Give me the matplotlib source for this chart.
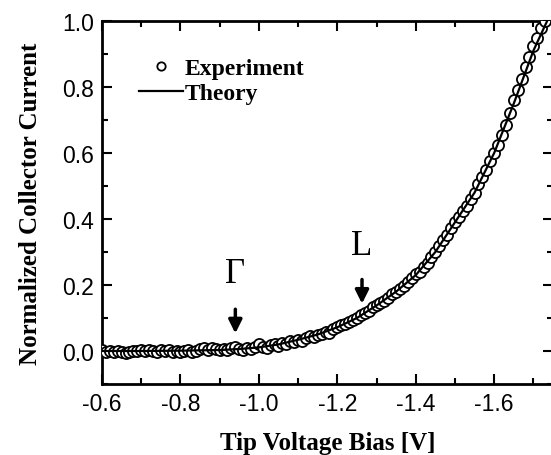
import numpy as np
import matplotlib
matplotlib.use("Agg")
import matplotlib.pyplot as plt
from matplotlib.ticker import MultipleLocator

# experiment: tip bias [V] and normalized collector current
exp_v = np.round(np.arange(-0.60, -1.735, -0.01), 2)
exp_i = [
    0.002, -0.003, 0.000, -0.004, 0.001, -0.002, -0.006, -0.003, 0.001, -0.001,
    0.003, 0.000, 0.004, 0.001, -0.002, 0.003, 0.000, 0.002, -0.003, 0.001,
    -0.002, 0.000, 0.003, -0.004, 0.001, 0.006, 0.008, 0.004, 0.009, 0.005,
    0.002, 0.007, 0.004, 0.010, 0.012, 0.006, 0.003, 0.008, 0.005, 0.011,
    0.020, 0.012, 0.008, 0.018, 0.020, 0.015, 0.025, 0.022, 0.030, 0.028,
    0.034, 0.030, 0.040, 0.044, 0.042, 0.050, 0.053, 0.058, 0.055, 0.066,
    0.072, 0.078, 0.082, 0.088, 0.095, 0.100, 0.108, 0.115, 0.122, 0.132,
    0.138, 0.145, 0.152, 0.160, 0.172, 0.180, 0.188, 0.198, 0.210, 0.220,
    0.232, 0.240, 0.255, 0.268, 0.285, 0.300, 0.318, 0.335, 0.352, 0.372,
    0.392, 0.405, 0.425, 0.440, 0.462, 0.480, 0.505, 0.528, 0.550, 0.575,
    0.600, 0.625, 0.655, 0.685, 0.720, 0.760, 0.790, 0.825, 0.860, 0.890,
    0.925, 0.950, 0.980, 1.000,
]

# theory curve
th_v = [-0.60, -0.70, -0.80, -0.90, -0.95, -1.00, -1.05, -1.10, -1.15, -1.20,
        -1.25, -1.30, -1.35, -1.40, -1.45, -1.50, -1.55, -1.60, -1.65, -1.70,
        -1.735, -1.75]
th_i = [0.000, 0.000, 0.001, 0.003, 0.006, 0.011, 0.020, 0.034, 0.050, 0.072,
        0.100, 0.138, 0.180, 0.230, 0.300, 0.390, 0.480, 0.600, 0.750, 0.910,
        1.000, 1.040]

serif = ['Liberation Serif', 'DejaVu Serif']
plt.rcParams['font.family'] = ['Liberation Sans', 'DejaVu Sans']

fig = plt.figure(figsize=(5.51, 4.56), dpi=100)
ax = fig.add_axes([102/551, 71/456, 451/551, 363/456])

ax.plot(exp_v, exp_i, 'o', mfc='white', mec='black', ms=8, mew=1.3,
        label='Experiment', zorder=3)
ax.plot(th_v, th_i, '-', color='black', lw=1.6, label='Theory', zorder=4)

ax.set_xlim(-0.6, -1.75)
ax.set_ylim(-0.1, 1.0)
ax.xaxis.set_major_locator(MultipleLocator(0.2))
ax.xaxis.set_minor_locator(MultipleLocator(0.1))
ax.yaxis.set_major_locator(MultipleLocator(0.2))
ax.yaxis.set_minor_locator(MultipleLocator(0.1))
ax.xaxis.set_major_formatter(matplotlib.ticker.FormatStrFormatter('%.1f'))
ax.yaxis.set_major_formatter(matplotlib.ticker.FormatStrFormatter('%.1f'))
ax.tick_params(which='both', direction='in', top=True, right=True, width=1.5,
               labelsize=16.5)
ax.tick_params(which='major', length=7, pad=6)
ax.tick_params(which='minor', length=4)
for s in ax.spines.values():
    s.set_linewidth(2)

ax.set_xlabel('Tip Voltage Bias [V]', family=serif, fontweight='bold',
              fontsize=18, labelpad=11)
ax.set_ylabel('Normalized Collector Current', family=serif, fontweight='bold',
              fontsize=18, labelpad=14)

leg = ax.legend(loc='upper left', bbox_to_anchor=(0.06, 0.925), frameon=False,
                prop={'family': serif, 'weight': 'bold', 'size': 17},
                handlelength=1.9, handletextpad=0.05, labelspacing=0.15,
                borderaxespad=0, markerscale=0.75)

# band-edge markers
ax.annotate('', xy=(-0.94, 0.045), xytext=(-0.94, 0.135),
            arrowprops=dict(arrowstyle='-|>,head_width=0.4,head_length=0.8',
                            color='black', lw=2.5))
ax.text(-0.94, 0.185, 'Γ', family=serif, fontsize=25, ha='center', va='bottom')
ax.annotate('', xy=(-1.263, 0.135), xytext=(-1.263, 0.225),
            arrowprops=dict(arrowstyle='-|>,head_width=0.4,head_length=0.8',
                            color='black', lw=2.5))
ax.text(-1.263, 0.27, 'L', family=serif, fontsize=25, ha='center', va='bottom')

fig.savefig('out.png', dpi=100)
